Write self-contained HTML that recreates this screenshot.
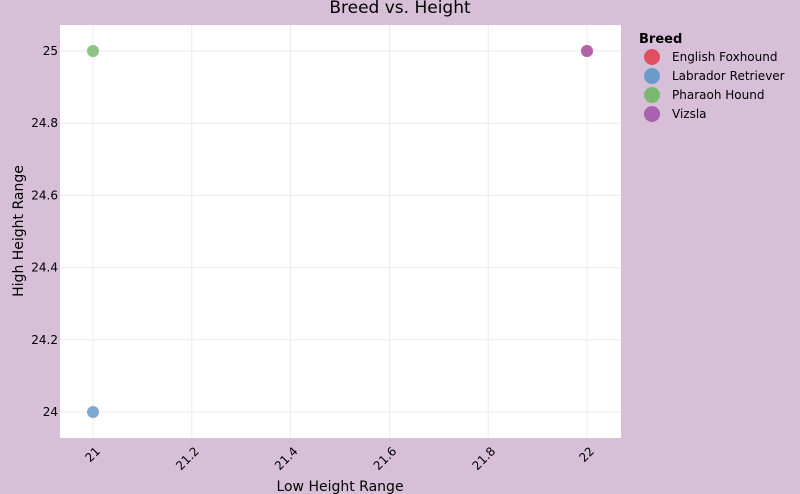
<!DOCTYPE html>
<html><head><meta charset="utf-8"><style>
html,body{margin:0;padding:0;background:#d8bfd8;}
svg{display:block;font-family:"DejaVu Sans","Liberation Sans",sans-serif;}
</style></head><body>
<svg id="chart" width="800" height="494">
<rect x="0" y="0" width="800" height="494" fill="#d8bfd8"/>
<rect x="60" y="25" width="561" height="413" fill="#ffffff"/>
<g id="grid"></g><g id="ticks"></g><g id="points"></g>
<text x="400" y="13" text-anchor="middle" font-size="17" fill="#000">Breed vs. Height</text>
<text x="340" y="491" text-anchor="middle" font-size="14" fill="#000">Low Height Range</text>
<text transform="translate(23,231) rotate(-90)" text-anchor="middle" font-size="14" fill="#000">High Height Range</text>
<g id="legend">
<text x="639" y="43" font-size="13" font-weight="bold" fill="#000">Breed</text>
</g>
</svg>
<script>
const breeds = ["English Foxhound","Labrador Retriever","Pharaoh Hound","Vizsla"];
const lowHeight = [22, 21, 21, 22];
const highHeight = [25, 24, 25, 25];
const colors = ["#e04f5f","#6a9bc9","#79b96f","#a862b0"];
const xTicks = [21, 21.2, 21.4, 21.6, 21.8, 22];
const yTicks = [24, 24.2, 24.4, 24.6, 24.8, 25];
const NS="http://www.w3.org/2000/svg";
function xs(v){return 93+(v-21)*494;}
function ys(v){return 412-(v-24)*361;}
function mk(tag,attrs,parent){const e=document.createElementNS(NS,tag);for(const k in attrs)e.setAttribute(k,attrs[k]);parent.appendChild(e);return e;}
const grid=document.getElementById('grid'),ticks=document.getElementById('ticks'),pts=document.getElementById('points'),leg=document.getElementById('legend');
xTicks.forEach(t=>{
  const l=mk('line',{x1:xs(t),x2:xs(t),y1:25,y2:438,stroke:'#ebebeb','stroke-width':1},grid);
  
  
  const x=xs(t)+2,y=446;
  const tx=mk('text',{x:x,y:y,'text-anchor':'end','font-size':12,fill:'#000',transform:`rotate(-45 ${x} ${y})`,dy:'0.7em'},ticks);
  tx.textContent=t;
  
  
});
yTicks.forEach(t=>{
  const l=mk('line',{x1:60,x2:621,y1:ys(t),y2:ys(t),stroke:'#ebebeb','stroke-width':1},grid);
  
  
  const tx=mk('text',{x:58,y:ys(t)+4,'text-anchor':'end','font-size':12,fill:'#000'},ticks);
  tx.textContent=t;
  
  
});
breeds.forEach((b,i)=>{
  const c=mk('circle',{cx:xs(lowHeight[i]),cy:ys(highHeight[i]),r:6,fill:colors[i],'fill-opacity':0.85},pts);
  
  
  const y=57+i*19;
  const lc=mk('circle',{cx:652,cy:y,r:8,fill:colors[i]},leg);
  
  
  const lt=mk('text',{x:672,y:y+4,'font-size':12,fill:'#000'},leg);
  lt.textContent=b;
  
  
});
</script>
</body></html>
